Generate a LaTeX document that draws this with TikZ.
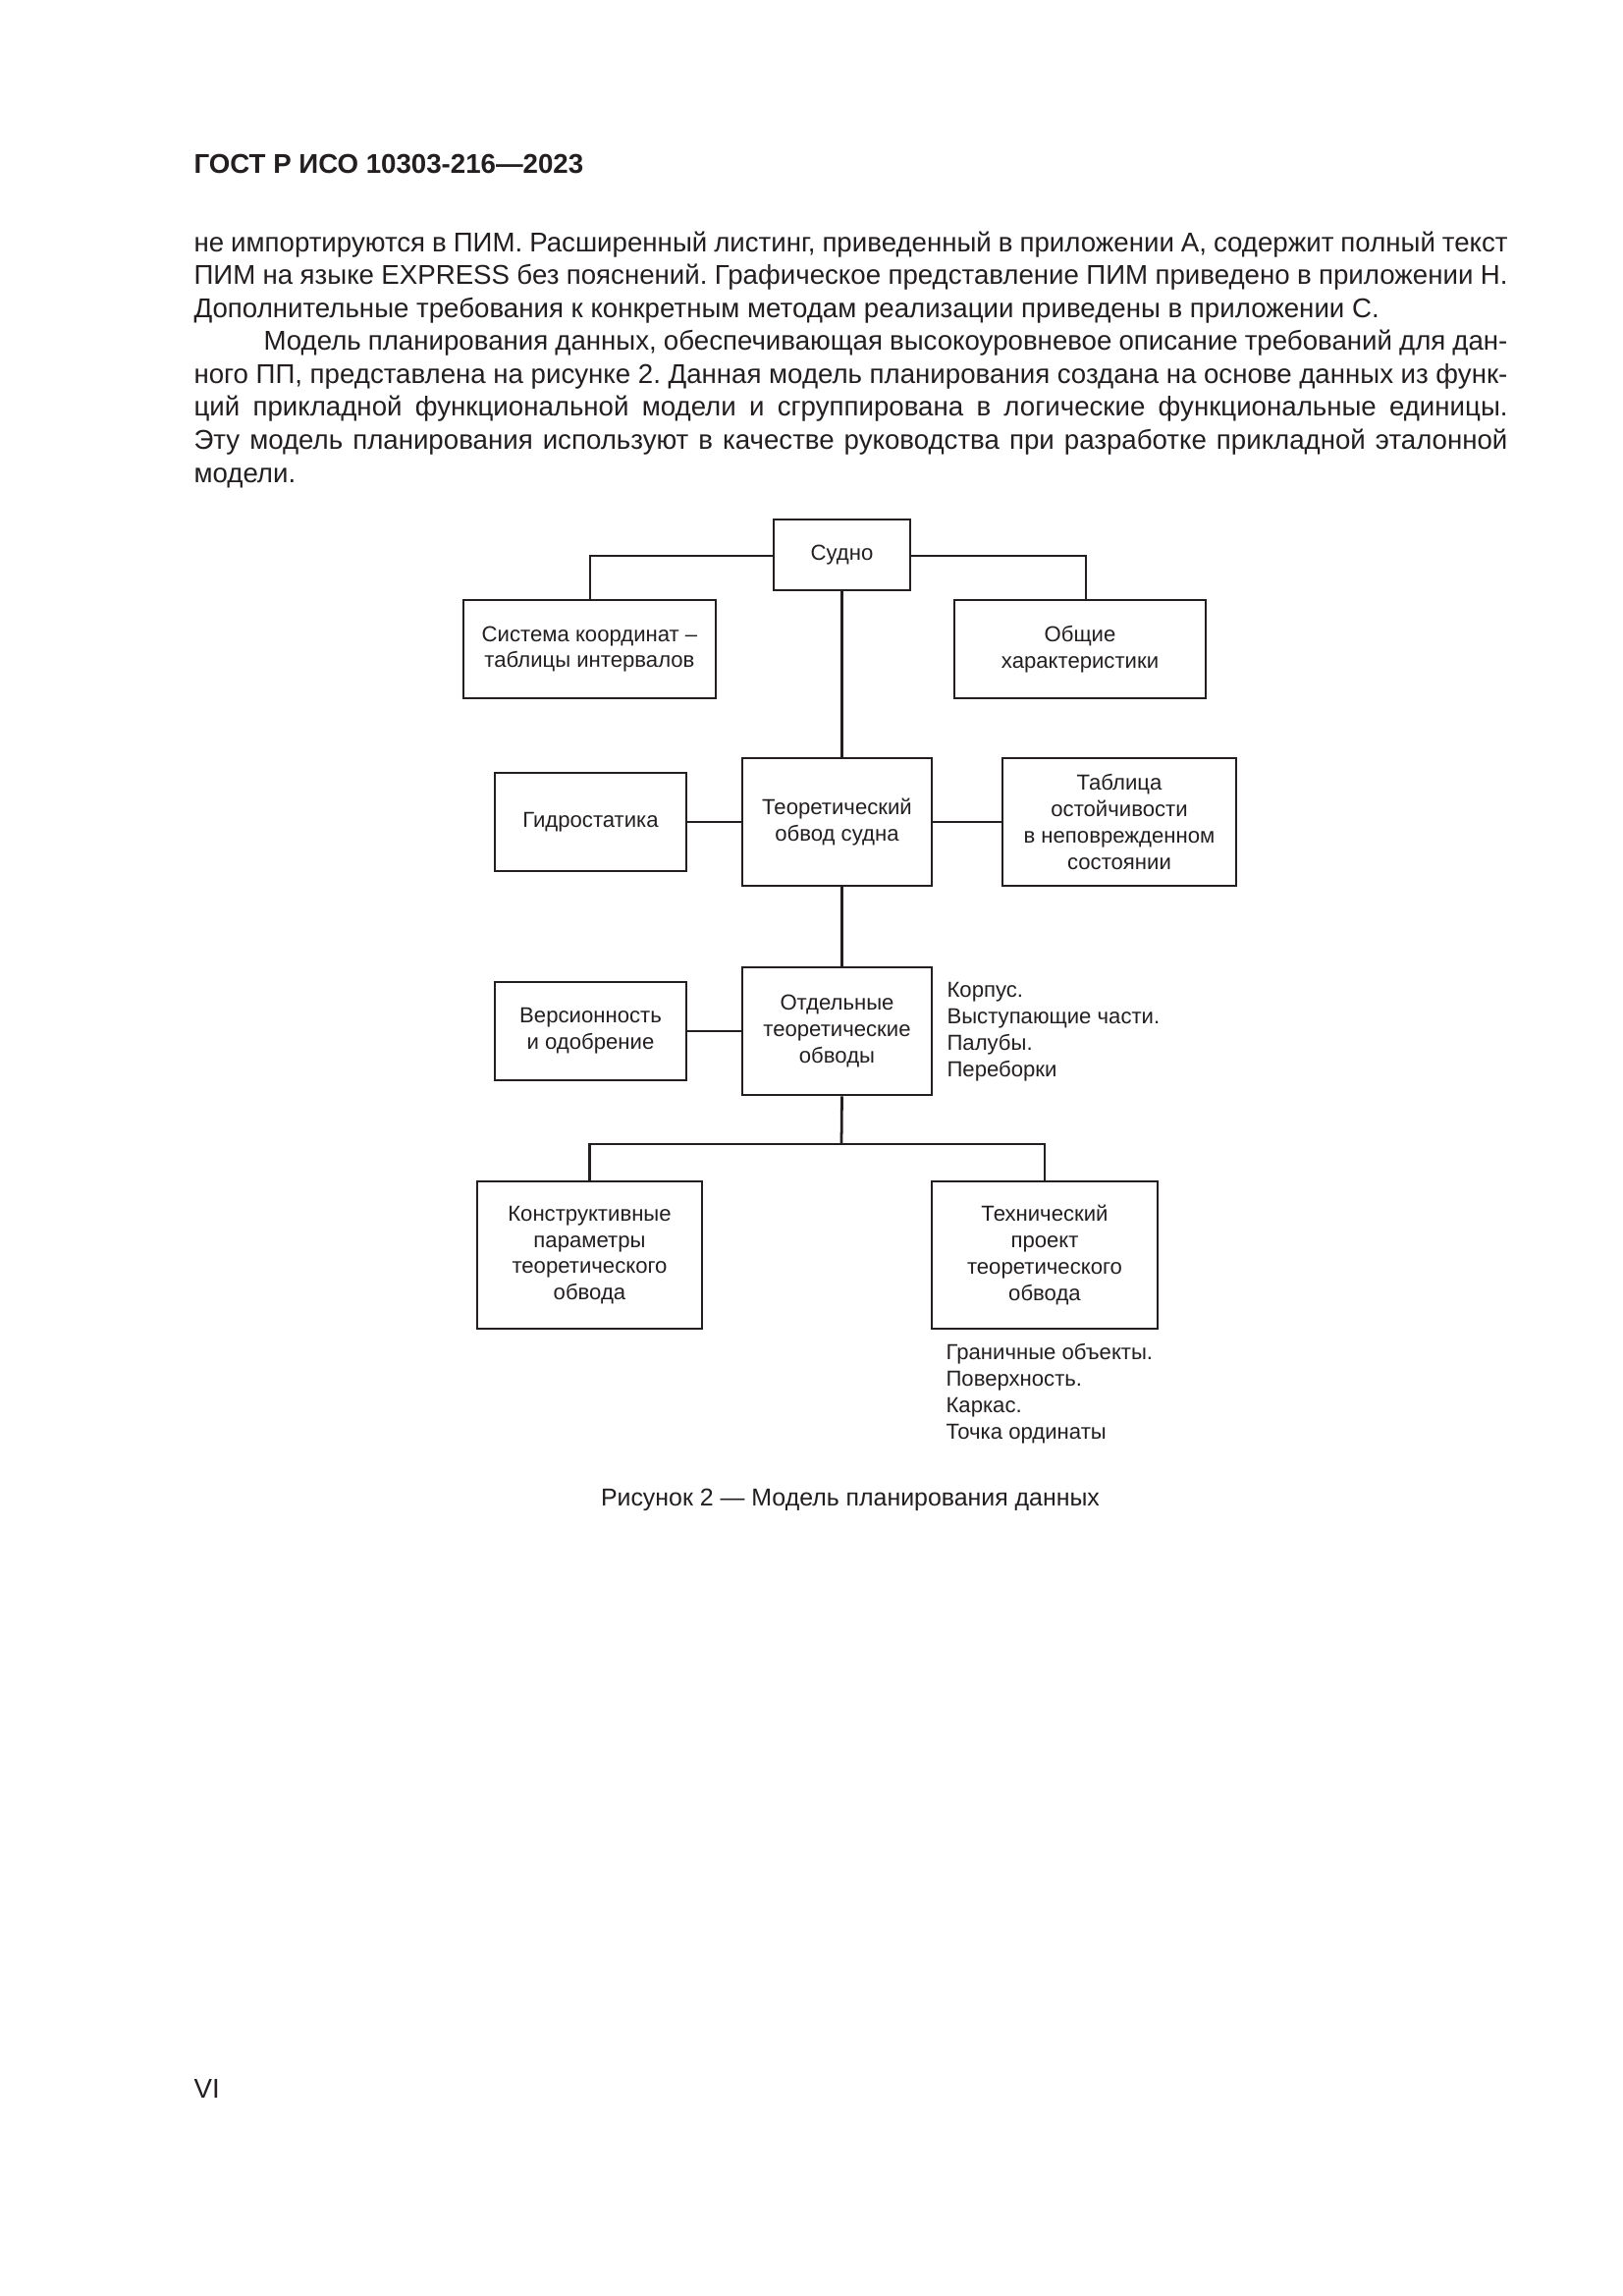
\documentclass[tikz,border=0pt]{standalone}
\usepackage{fontspec}
\setmainfont{Liberation Sans}
\frenchspacing
\newdimen\pxu \pxu=0.12704mm
\definecolor{ink}{HTML}{231F20}
\begin{document}
\begin{tikzpicture}[x=0.12704mm,y=-0.12704mm,
  every node/.style={text=ink},
  box/.style={draw=ink, line width=1pt, align=center, inner sep=0pt,
    font=\fontsize{8}{9.7}\selectfont},
  conn/.style={draw=ink, line width=1pt},
  note/.style={align=left, anchor=north west, inner sep=0pt,
    font=\fontsize{8}{9.7}\selectfont},
  body/.style={anchor=base west, inner sep=0pt, font=\fontsize{10}{12}\selectfont},
]
\fill[white] (0,0) rectangle (1653,2338);
\useasboundingbox (0,0) rectangle (1653,2338);

% header
\node[anchor=base west, inner sep=0pt, font=\fontsize{10}{12}\selectfont\bfseries] (hdr) at (197,176) {ГОСТ Р ИСО 10303-216—2023};

% body text
\node[body] (l1) at (197,256) {\makebox[1338\pxu][s]{не импортируются в ПИМ. Расширенный листинг, приведенный в приложении А, содержит полный текст}};
\node[body] (l2) at (197,289) {\makebox[1338\pxu][s]{ПИМ на языке EXPRESS без пояснений. Графическое представление ПИМ приведено в приложении Н.}};
\node[body] (l3) at (197,323) {Дополнительные требования к конкретным методам реализации приведены в приложении С.};
\node[body] (l4) at (268,356) {\makebox[1267\pxu][s]{Модель планирования данных, обеспечивающая высокоуровневое описание требований для дан-}};
\node[body] (l5) at (197,390) {\makebox[1338\pxu][s]{ного ПП, представлена на рисунке 2. Данная модель планирования создана на основе данных из функ-}};
\node[body] (l6) at (197,423) {\makebox[1338\pxu][s]{ций прикладной функциональной модели и сгруппирована в логические функциональные единицы.}};
\node[body] (l7) at (197,457) {\makebox[1338\pxu][s]{Эту модель планирования используют в качестве руководства при разработке прикладной эталонной}};
\node[body] (l8) at (197,491) {модели.};

% boxes
\node[box, minimum width=139\pxu, minimum height=72\pxu] (sudno) at (857.5,565) {Судно};
\node[box, minimum width=257\pxu, minimum height=100\pxu] (sys) at (600.5,661) {Система координат –\\таблицы интервалов};
\node[box, minimum width=256\pxu, minimum height=100\pxu] (gen) at (1100,661) {Общие\\характеристики};
\node[box, minimum width=193\pxu, minimum height=130\pxu] (teor) at (852.5,837) {Теоретический\\обвод судна};
\node[box, minimum width=195\pxu, minimum height=100\pxu] (hydro) at (601.5,837) {Гидростатика};
\node[box, minimum width=238\pxu, minimum height=130\pxu] (tab) at (1140,837) {Таблица\\остойчивости\\в неповрежденном\\состоянии};
\node[box, minimum width=193\pxu, minimum height=130\pxu] (otd) at (852.5,1050) {Отдельные\\теоретические\\обводы};
\node[box, minimum width=195\pxu, minimum height=100\pxu] (vers) at (601.5,1050) {Версионность\\и одобрение};
\node[box, minimum width=229\pxu, minimum height=150\pxu] (konstr) at (600.5,1278) {Конструктивные\\параметры\\теоретического\\обвода};
\node[box, minimum width=230\pxu, minimum height=150\pxu] (tech) at (1064,1278) {Технический\\проект\\теоретического\\обвода};

% notes
\node[note] (n1) at (964,1000) {Корпус.\\Выступающие части.\\Палубы.\\Переборки};
\node[note] (n2) at (963,1368) {Граничные объекты.\\Поверхность.\\Каркас.\\Точка ординаты};

% connectors
\coordinate (tl) at (601,566);
\coordinate (tr) at (1106,566);
\draw[conn] (sudno.west |- tl) -| (sys.north -| tl);
\draw[conn] (sudno.east |- tr) -| (gen.north -| tr);
\draw[conn] (sudno.south) -- (sudno.south |- teor.north);
\draw[conn] (hydro.east) -- (teor.west |- hydro.east);
\draw[conn] (teor.east |- tab.west) -- (tab.west);
\draw[conn] (sudno.south |- teor.south) -- (sudno.south |- otd.north);
\draw[conn] (vers.east) -- (otd.west |- vers.east);
\coordinate (bj) at (857,1165);
\draw[conn] (sudno.south |- otd.south) -- (bj);
\draw[conn] (konstr.north) |- (bj) -| (tech.north);

% caption
\node[inner sep=0pt, font=\fontsize{9}{11}\selectfont] (cap) at (866,1527) {Рисунок 2 — Модель планирования данных};

% page number
\node[anchor=base west, inner sep=0pt, font=\fontsize{10}{12}\selectfont] (pg) at (197,2136) {VI};
\end{tikzpicture}
\end{document}
